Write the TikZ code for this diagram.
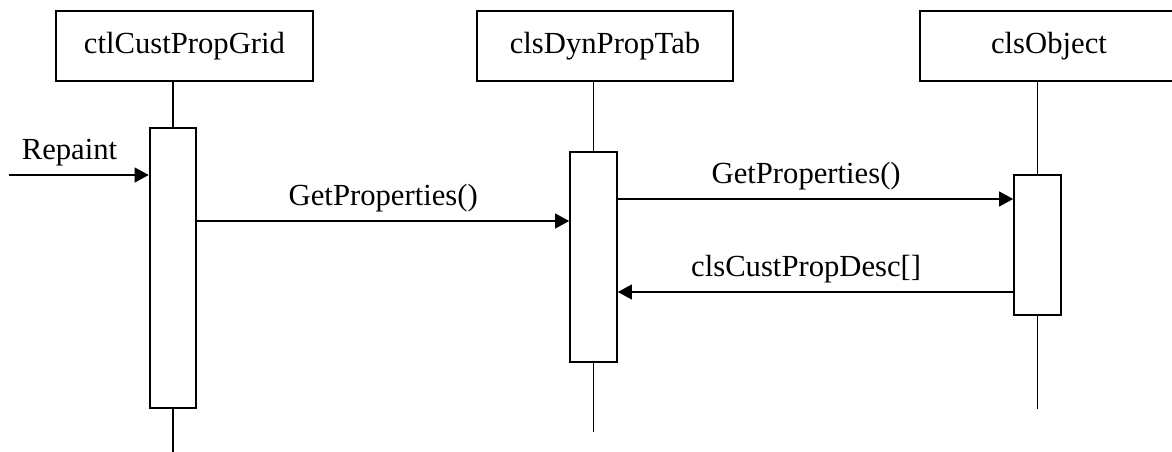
\documentclass[tikz,border=0pt]{standalone}
\usepackage{fontspec}
\setmainfont{Liberation Serif}
\usepackage{tikz}
\usetikzlibrary{arrows.meta}

\tikzset{
  head/.style={draw, line width=1.4pt, minimum height=52.5pt, inner sep=0pt},
  act/.style={draw, line width=1.4pt, fill=white, minimum width=35pt, inner sep=0pt},
  life/.style={line width=1.4pt},
  msg/.style={line width=1.4pt, -{Triangle[length=10.5pt, width=11pt]}},
  lbl/.style={above=6pt, inner sep=0pt}
}

\begin{document}
\begin{tikzpicture}[x=0.75pt, y=-0.75pt, font=\fontsize{23}{27}\selectfont]
    \useasboundingbox (0,0) rectangle (1172,452);

    \node[head, minimum width=192.75pt] (grid) at (184.5,46) {ctlCustPropGrid};
    \node[head, minimum width=192pt] (dyn) at (605,46) {clsDynPropTab};
    \node[head, minimum width=210pt] (obj) at (1060,46) {\hspace*{-16.5pt}clsObject};

    \node[act, minimum height=210pt] (actgrid) at (173,268) {};
    \node[act, minimum height=157.5pt] (actdyn) at (593.5,257) {};
    \node[act, minimum height=105pt] (actobj) at (1037.5,245) {};

    \coordinate (endgrid) at (173,452);
    \coordinate (enddyn) at (593.5,432);
    \coordinate (endobj) at (1037.5,409);

    \draw[life] (actgrid.north) -- (actgrid.north |- grid.south);
    \draw[life] (actgrid.south) -- (endgrid);
    \draw[life] (actdyn.north) -- (actdyn.north |- dyn.south);
    \draw[life] (actdyn.south) -- (enddyn);
    \draw[life] (actobj.north) -- (actobj.north |- obj.south);
    \draw[life] (actobj.south) -- (endobj);

    \coordinate (repaint) at (9,175);
    \coordinate (call1) at (0,221);
    \coordinate (call2) at (0,199);
    \coordinate (ret2) at (0,292);

    \draw[msg] (repaint) -- (repaint -| actgrid.west)
      node[lbl, midway, xshift=-7pt] {Repaint};
    \draw[msg] (actgrid.east |- call1) -- (actdyn.west |- call1)
      node[lbl, midway] {GetProperties()};
    \draw[msg] (actdyn.east |- call2) -- (actobj.west |- call2)
      node[lbl, midway, xshift=-7pt] {GetProperties()};
    \draw[msg] (actobj.west |- ret2) -- (actdyn.east |- ret2)
      node[lbl, midway, xshift=-7pt] {clsCustPropDesc[]};
  \end{tikzpicture}
\end{document}
